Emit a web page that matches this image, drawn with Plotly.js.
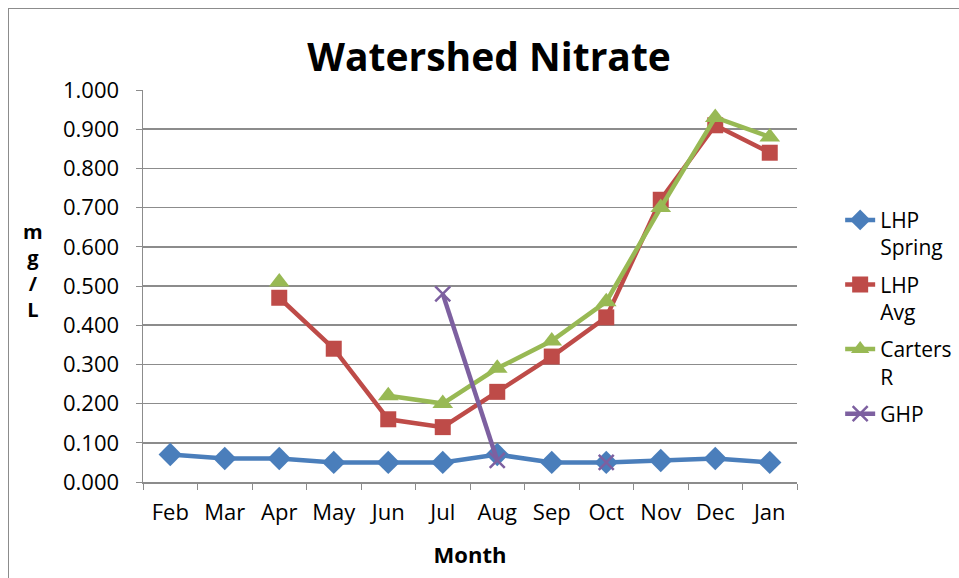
<!DOCTYPE html>
<html><head><meta charset="utf-8">
<script src="https://cdn.plot.ly/plotly-3.0.1.min.js"></script>
<style>
body{margin:0;padding:0;background:#fff;}
#frame{position:absolute;left:8px;top:8px;width:1000px;height:600px;border-left:1.5px solid #8c8c8c;border-top:1.5px solid #8c8c8c;pointer-events:none;}
#chart{position:absolute;left:0;top:0;width:959px;height:578px;}
</style></head>
<body>
<div id="chart"></div>
<div id="frame"></div>
<script>
const months = ["Feb","Mar","Apr","May","Jun","Jul","Aug","Sep","Oct","Nov","Dec","Jan"];
const lhpSpring = [0.07,0.06,0.06,0.05,0.05,0.05,0.07,0.05,0.05,0.055,0.06,0.05];
const lhpAvg = [null,null,0.47,0.34,0.16,0.14,0.23,0.32,0.42,0.72,0.91,0.84];
const cartersR = [null,null,0.51,null,0.22,0.20,0.29,0.36,0.46,0.70,0.93,0.88];
const ghp = [null,null,null,null,null,0.48,0.055,null,0.05,null,null,null];
const seriesNames = ["LHP<br>Spring","LHP<br>Avg","Carters<br>R","GHP"];
const yTicks = [0,0.1,0.2,0.3,0.4,0.5,0.6,0.7,0.8,0.9,1.0];

const font = "Open Sans, Noto Sans, sans-serif";
const mk = (y, name, color, symbol, size, group) => ({
  x: months, y: y, name: name, type: 'scatter', mode: 'lines+markers',
  connectgaps: false, legendgroup: group,
  line: {color: color, width: 4.5},
  marker: {color: color, symbol: symbol, size: size, line: {color: color, width: symbol==='x-thin'?2.5:0}}
});
const traces = [
  mk(lhpSpring, seriesNames[0], '#4a7ebb', 'diamond', 18, 'a'),
  mk(lhpAvg, seriesNames[1], '#be4b48', 'square', 16, 'b'),
  mk(cartersR, seriesNames[2], '#98b954', 'triangle-up', 18, 'c'),
  mk(ghp, seriesNames[3], '#7d60a0', 'x-thin', 15, 'd')
];
const layout = {
  width: 959, height: 578,
  margin: {l:143, r:162, t:90, b:96, autoexpand: false},
  paper_bgcolor: '#ffffff', plot_bgcolor: '#ffffff',
  font: {family: font, color: '#000', size: 22},
  title: {text: '<b>Watershed Nitrate</b>', font: {size: 39, family: font, color:'#000'}, x: 0.51, xanchor: 'center', y: 0.9, yanchor: 'middle', yref:'container'},
  xaxis: {
    type: 'category', range: [-0.5, 11.5], tickson: 'boundaries', tickangle: 0, automargin: false,
    ticks: 'outside', ticklen: 6, tickcolor: '#8c8c8c',
    showline: true, linecolor: '#8c8c8c', linewidth: 1.5, showgrid: false, zeroline: false,
    tickfont: {size: 22}, ticklabelstandoff: 10,
    title: {text: '<b>Month</b>', font: {size: 22}, standoff: 22}
  },
  yaxis: {
    range: [0, 1.0], tickvals: yTicks, tickformat: '.3f', automargin: false,
    ticks: 'outside', ticklen: 6, tickcolor: '#8c8c8c',
    showline: true, linecolor: '#8c8c8c', linewidth: 1.5,
    showgrid: true, gridcolor: '#8c8c8c', gridwidth: 1.5, zeroline: false,
    tickfont: {size: 22}, ticklabelstandoff: 12
  },
  showlegend: true,
  legend: {x: 1.066, xanchor: 'left', y: 0.72, yanchor: 'top', traceorder: 'grouped', tracegroupgap: 7, valign: 'top',
           font: {size: 21}, bgcolor: 'rgba(0,0,0,0)'},
  annotations: [{
    text: '<b>m<br>g<br>/<br>L</b>', xref: 'paper', yref: 'paper', x: -0.168, y: 0.54,
    xanchor: 'center', yanchor: 'middle', showarrow: false, font: {size: 20}, align: 'center'
  }]
};
Plotly.newPlot('chart', traces, layout, {displayModeBar: false, staticPlot: true});
</script>
</body></html>
